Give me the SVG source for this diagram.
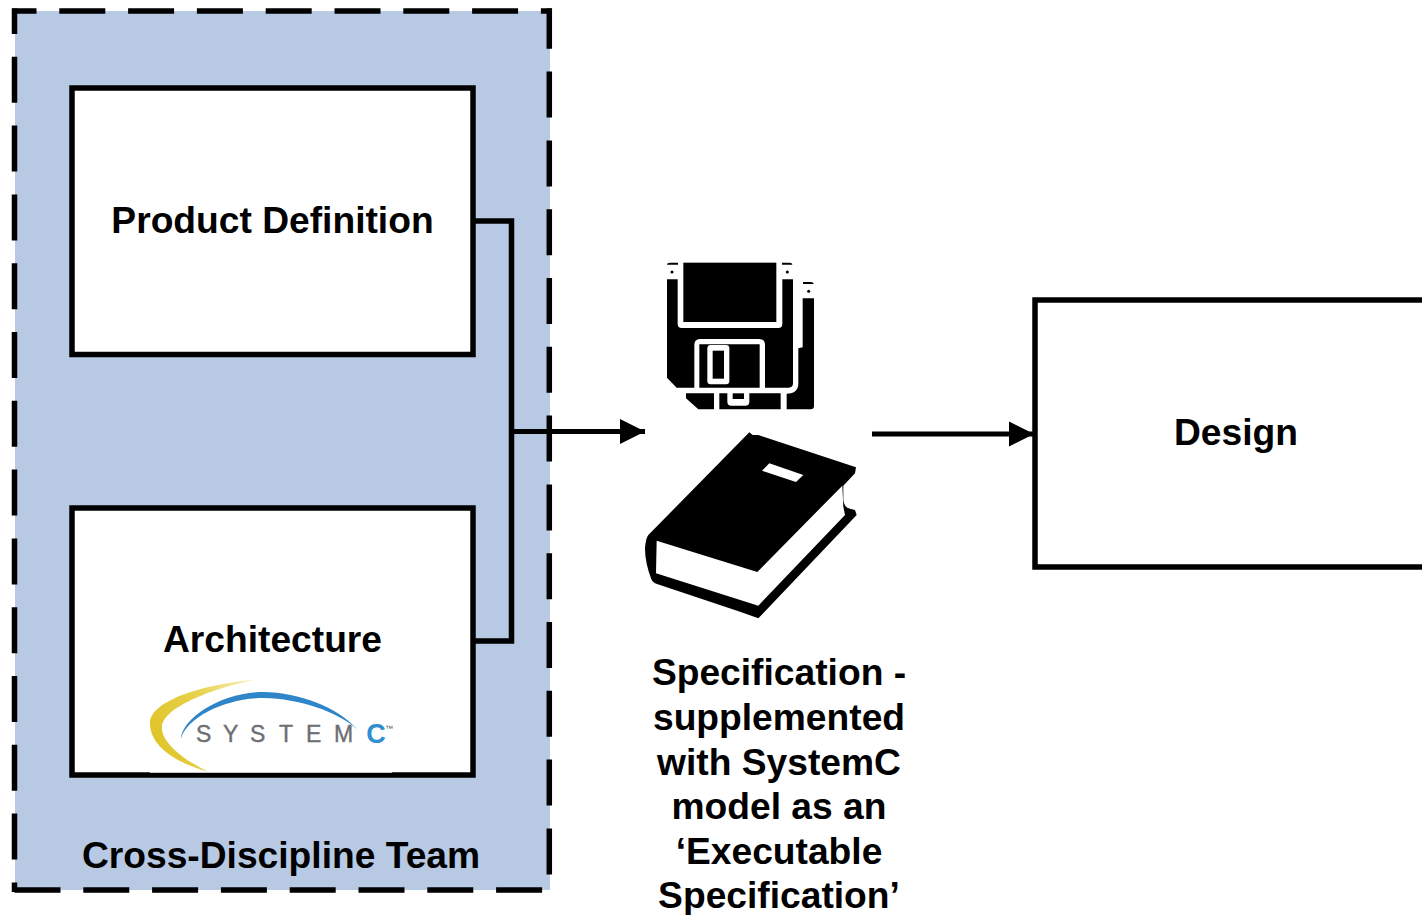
<svg xmlns="http://www.w3.org/2000/svg" width="1422" height="915" viewBox="0 0 1422 915">
<style>
text{font-family:"Liberation Sans",Arial,sans-serif;font-weight:700;font-size:37.2px;fill:#000;text-anchor:middle}
.box{fill:#fff;stroke:#000;stroke-width:5.5}
.dash{fill:none;stroke:#000;stroke-width:5.5;stroke-dasharray:46 22.8}
.wire{fill:none;stroke:#000;stroke-width:5.5}
.arrow{fill:none;stroke:#000;stroke-width:5;marker-end:url(#head)}
.sys{font-size:23px;font-weight:400;fill:#6d6f72;stroke:#6d6f72;stroke-width:.4;text-anchor:start}
</style>
<defs>
<marker id="head" markerUnits="userSpaceOnUse" markerWidth="26" markerHeight="26" refX="25" refY="13" orient="auto"><path d="M0 0.5L25 13L0 25.5Z" fill="#000"/></marker>
<linearGradient id="yel" gradientUnits="userSpaceOnUse" x1="30" y1="160" x2="355" y2="40"><stop offset="0" stop-color="#e0c52a"/><stop offset=".5" stop-color="#e8d24f"/><stop offset="1" stop-color="#fbf4cc"/></linearGradient>
</defs>
<g id="team">
<rect x="15" y="11" width="535" height="879" fill="#b7c9e3"/>
<path class="dash" d="M12 11H552" stroke-dashoffset="21.500"/>
<path class="dash" d="M14.500 8.500V892" stroke-dashoffset="20.500"/>
<path class="dash" d="M549.300 8.500V892" stroke-dashoffset="5.700"/>
<path class="dash" d="M14.500 890H552"/>
<text x="281" y="868">Cross-Discipline Team</text>
</g>
<g id="product-definition">
<rect class="box" x="72" y="88" width="401" height="266.500"/>
<text x="272.500" y="233">Product Definition</text>
</g>
<g id="architecture">
<rect class="box" x="72" y="508" width="401" height="267"/>
<text x="272.500" y="652">Architecture</text>
<g id="systemc-logo">
<rect x="150" y="678" width="242" height="94.700" fill="#fff"/>
<g transform="translate(140 670) scale(.33333)">
<path d="M355 28C200 40 30 90 30 160C30 230 110 280 205 305C130 270 62 215 66 170C70 110 230 50 355 28Z" fill="url(#yel)"/>
<path d="M122 208C128 140 250 66 370 66C480 68 590 110 652 178C590 124 480 86 370 84C260 84 140 140 122 208Z" fill="#2e86c8"/>
</g>
<text class="sys" x="196 223 250 279 306 334" y="742">SYSTEM</text>
<text x="376" y="743" style="font-size:27px;fill:#2f8fd0">C</text>
<text x="389" y="731" style="font-size:8px;font-weight:400;fill:#555">™</text>
</g>
</g>
<g id="design">
<path class="box" d="M1425 300H1035V567H1425"/>
<text x="1236" y="445">Design</text>
</g>
<g id="floppy" transform="translate(630 250) scale(.33333)">
<path d="M111 88H143V222Q143 234 155 234H445Q457 234 457 222V88H489V400Q489 413 476 413H405V285Q405 267 387 267H210Q193 267 193 285V413H140L111 383Z"/>
<rect x="160" y="38" width="279" height="178"/>
<path d="M208 283H389V413H208Z"/>
<rect x="232" y="285" width="66" height="118" rx="10" fill="#fff"/>
<rect x="248" y="302" width="34" height="84"/>
<path d="M111 44Q111 38 120 38H144V44ZM456 44V38H478Q487 38 487 44ZM519 102V96H541Q551 96 551 102Z"/>
<circle cx="126" cy="66" r="4.500"/><circle cx="472" cy="66" r="4.500"/><circle cx="536" cy="124" r="4.500"/>
<path d="M168 430H252V478H205L168 445Z"/>
<path d="M268 430H292V455Q292 467 304 467H346Q358 467 358 455V430H452V478H268Z"/>
<rect x="308" y="430" width="34" height="17"/>
<path d="M470 478V431Q505 431 505 400V295L518 292V145H552V468Q552 478 542 478Z"/>
</g>
<g id="book" transform="translate(630 420) scale(.33333)">
<path d="M358 37L368 45L385 45L678 142L675 160L640 197L640 240Q642 262 660 266L675 270L680 285L385 595L330 575L90 495Q70 490 65 480Q45 430 45 385Q47 355 55 345Z"/>
<path d="M80 362L382 456L637 197L640 260L645 285L385 557L78 460Z" fill="#fff"/>
<path d="M418 130L520 165L498 186L396 152Z" fill="#fff"/>
</g>
<g id="specification-label">
<text x="779" y="685">Specification -</text>
<text x="779" y="730">supplemented</text>
<text x="779" y="775">with SystemC</text>
<text x="779" y="819">model as an</text>
<text x="779" y="864">‘Executable</text>
<text x="779" y="908">Specification’</text>
</g>
<g id="connectors">
<path class="wire" d="M473 221H511.500V641H473"/>
<path class="arrow" d="M509 431.500H645"/>
<path class="arrow" d="M872 434H1034"/>
</g>
</svg>
